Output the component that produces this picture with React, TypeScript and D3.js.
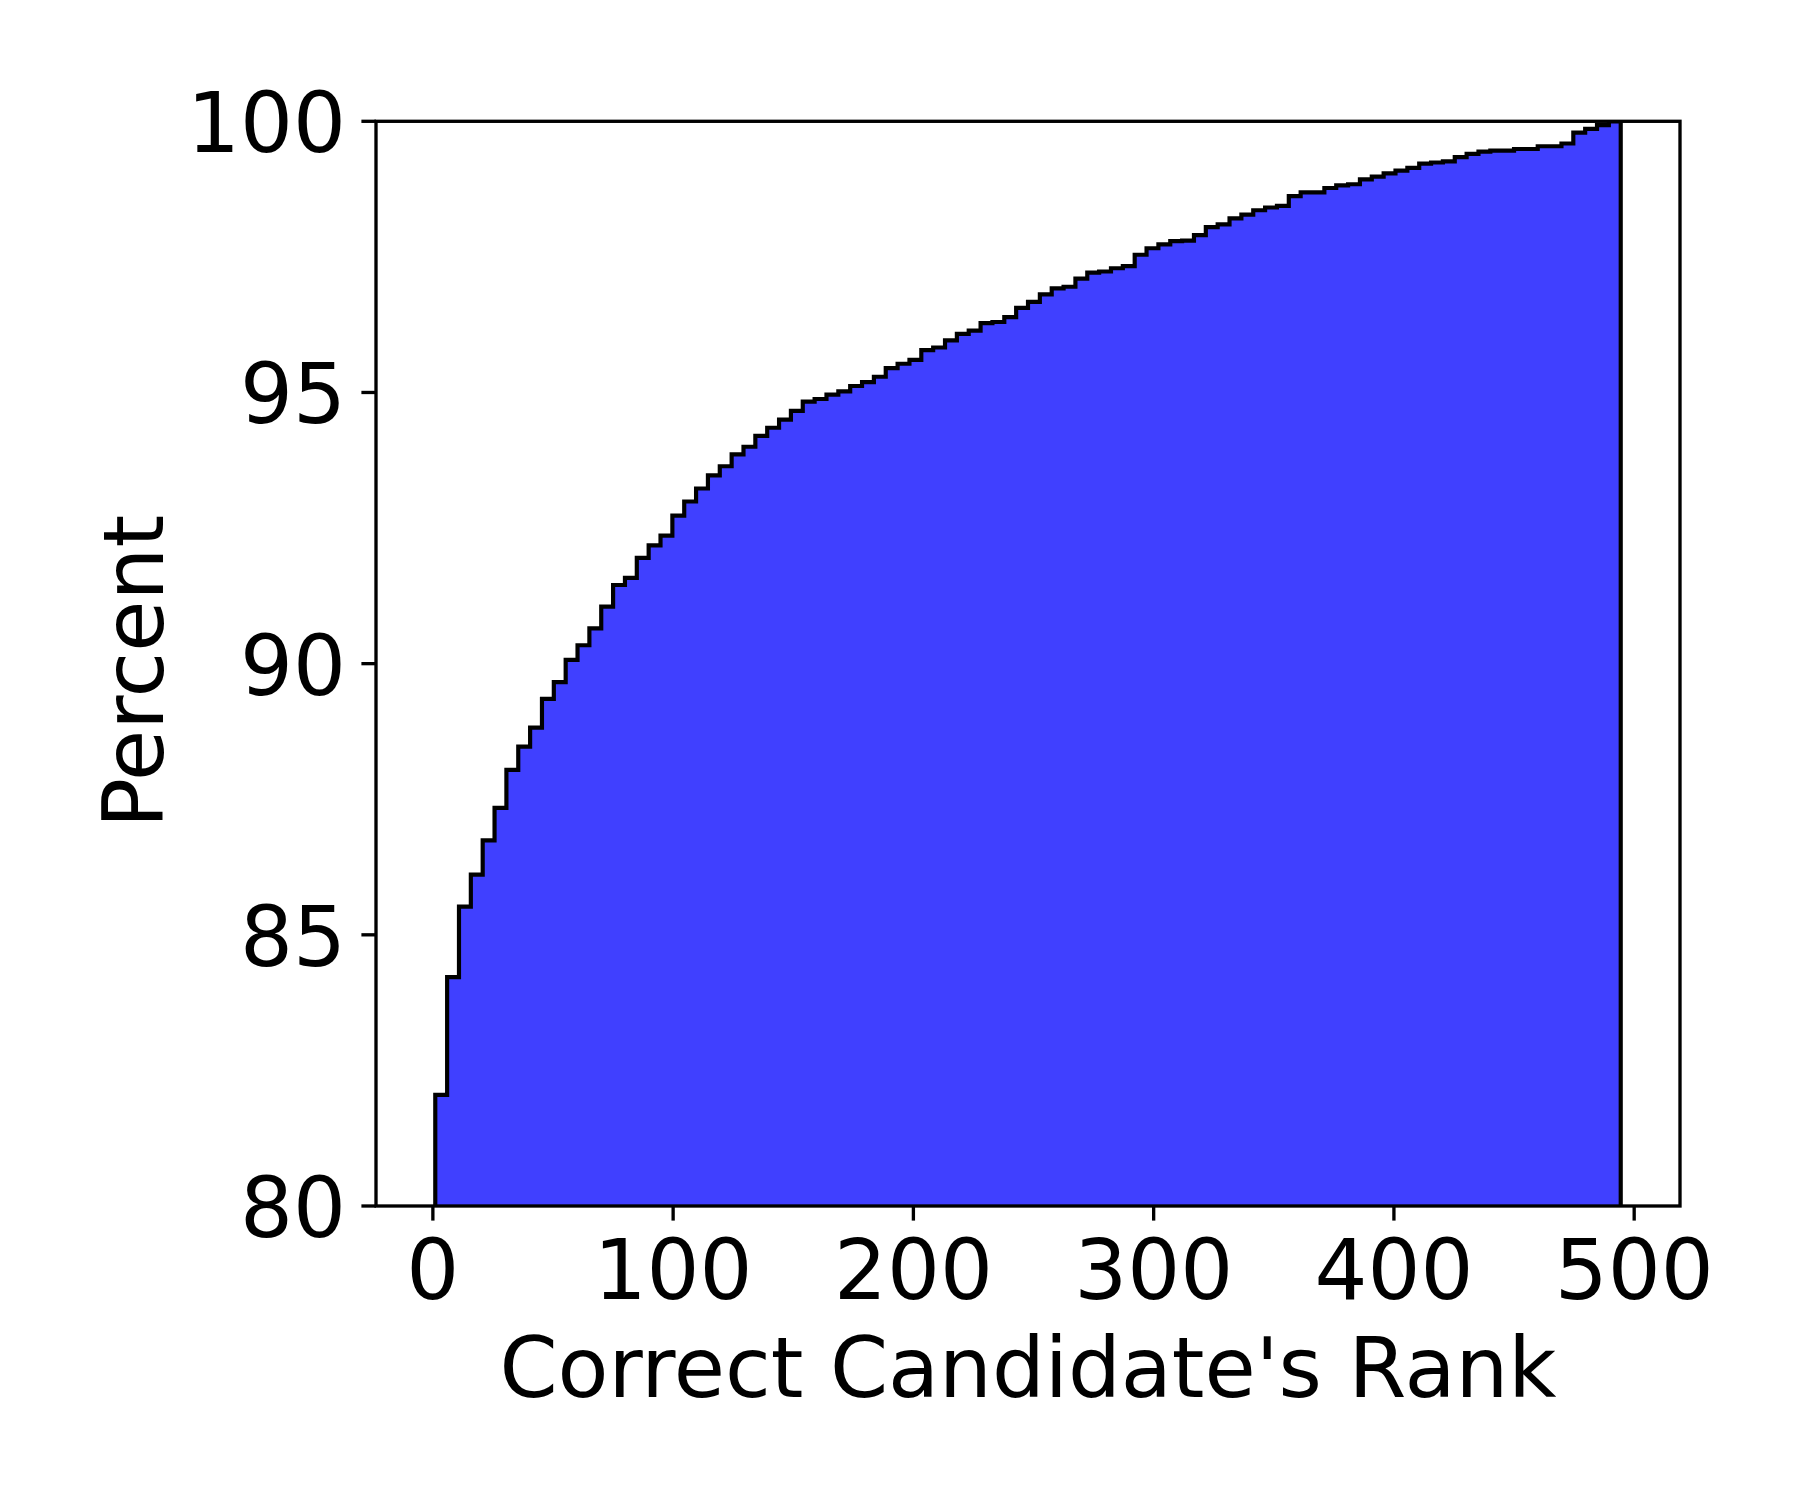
import React, { useEffect, useRef } from "react";
import * as d3 from "d3";

// cumulative percent per rank bin (100 equal bins)
const cumulativePercent: number[] = [
  82.05, 84.22, 85.52, 86.11, 86.74, 87.34, 88.04, 88.47, 88.82, 89.35,
  89.66, 90.07, 90.34, 90.65, 91.05, 91.45, 91.58, 91.95, 92.18, 92.36,
  92.73, 92.99, 93.23, 93.47, 93.64, 93.86, 94.0, 94.2, 94.35, 94.5,
  94.66, 94.83, 94.88, 94.96, 95.02, 95.12, 95.19, 95.29, 95.45, 95.53,
  95.6, 95.78, 95.83, 95.96, 96.08, 96.14, 96.28, 96.3, 96.39, 96.56,
  96.67, 96.81, 96.92, 96.95, 97.1, 97.21, 97.23, 97.29, 97.33, 97.54,
  97.66, 97.73, 97.79, 97.8, 97.9, 98.05, 98.1, 98.21, 98.28, 98.36,
  98.41, 98.44, 98.62, 98.69, 98.69, 98.77, 98.82, 98.84, 98.93, 98.98,
  99.04, 99.09, 99.14, 99.22, 99.24, 99.26, 99.34, 99.4, 99.44, 99.46,
  99.46, 99.49, 99.49, 99.54, 99.54, 99.59, 99.79, 99.86, 99.93, 100.0,
];

const rankMin = 1;
const rankMax = 494.4;

const xTicks = [0, 100, 200, 300, 400, 500];
const yTicks = [80, 85, 90, 95, 100];

const xLabel = "Correct Candidate's Rank";
const yLabel = "Percent";

const App: React.FC = () => {
  const svgRef = useRef<SVGSVGElement | null>(null);

  useEffect(() => {
    if (!svgRef.current) return;
    const svg = d3.select(svgRef.current);
    svg.selectAll("*").remove();

    const width = 1800;
    const height = 1500;
    const plot = { left: 376, right: 1680, top: 121.3, bottom: 1206 };
    const font = "'DejaVu Sans', sans-serif";
    const fontSize = 83.3;
    const tickLen = 14.6;
    const spineW = 3.33;

    svg.attr("width", width).attr("height", height);

    const pad = (rankMax - rankMin) * 0.05;
    const x = d3
      .scaleLinear()
      .domain([rankMin - pad, rankMax + pad])
      .range([plot.left, plot.right]);
    const y = d3.scaleLinear().domain([80, 100]).range([plot.bottom, plot.top]);

    const binW = (rankMax - rankMin) / cumulativePercent.length;
    const edges = cumulativePercent.map((_, i) => rankMin + i * binW);

    // stepfilled outline
    const pts: [number, number][] = [[rankMin, 0]];
    cumulativePercent.forEach((v, i) => {
      pts.push([edges[i], v]);
      pts.push([edges[i] + binW, v]);
    });
    pts.push([rankMax, 0]);

    svg
      .append("defs")
      .append("clipPath")
      .attr("id", "plot-clip")
      .append("rect")
      .attr("x", plot.left)
      .attr("y", plot.top)
      .attr("width", plot.right - plot.left)
      .attr("height", plot.bottom - plot.top);

    const line = d3
      .line<[number, number]>()
      .x((d) => x(d[0]))
      .y((d) => y(d[1]));

    svg
      .append("path")
      .datum(pts)
      .attr("clip-path", "url(#plot-clip)")
      .attr("d", line(pts) + "Z")
      .attr("fill", "#4040ff")
      .attr("stroke", "#000")
      .attr("stroke-width", 4.17)
      .attr("stroke-linejoin", "miter");

    // spines
    svg
      .append("rect")
      .attr("x", plot.left)
      .attr("y", plot.top)
      .attr("width", plot.right - plot.left)
      .attr("height", plot.bottom - plot.top)
      .attr("fill", "none")
      .attr("stroke", "#000")
      .attr("stroke-width", spineW);

    // x ticks
    const xg = svg.append("g");
    xTicks.forEach((t) => {
      xg.append("line")
        .attr("x1", x(t))
        .attr("x2", x(t))
        .attr("y1", plot.bottom)
        .attr("y2", plot.bottom + tickLen)
        .attr("stroke", "#000")
        .attr("stroke-width", spineW);
      xg.append("text")
        .attr("x", x(t))
        .attr("y", 1299)
        .attr("text-anchor", "middle")
        .attr("font-family", font)
        .attr("font-size", fontSize)
        .text(String(t));
    });

    // y ticks
    const yg = svg.append("g");
    yTicks.forEach((t) => {
      yg.append("line")
        .attr("x1", plot.left - tickLen)
        .attr("x2", plot.left)
        .attr("y1", y(t))
        .attr("y2", y(t))
        .attr("stroke", "#000")
        .attr("stroke-width", spineW);
      yg.append("text")
        .attr("x", plot.left - tickLen - 15.5)
        .attr("y", y(t) + 31)
        .attr("text-anchor", "end")
        .attr("font-family", font)
        .attr("font-size", fontSize)
        .text(String(t));
    });

    svg
      .append("text")
      .attr("x", (plot.left + plot.right) / 2)
      .attr("y", 1397)
      .attr("text-anchor", "middle")
      .attr("font-family", font)
      .attr("font-size", fontSize)
      .text(xLabel);

    svg
      .append("text")
      .attr("transform", `translate(163, ${(plot.top + plot.bottom) / 2 + 8}) rotate(-90)`)
      .attr("text-anchor", "middle")
      .attr("font-family", font)
      .attr("font-size", fontSize)
      .text(yLabel);
  }, []);

  return (
    <svg
      ref={svgRef}
      style={{ position: "absolute", left: 0, top: 0, background: "#fff" }}
    ></svg>
  );
};

export default App;
